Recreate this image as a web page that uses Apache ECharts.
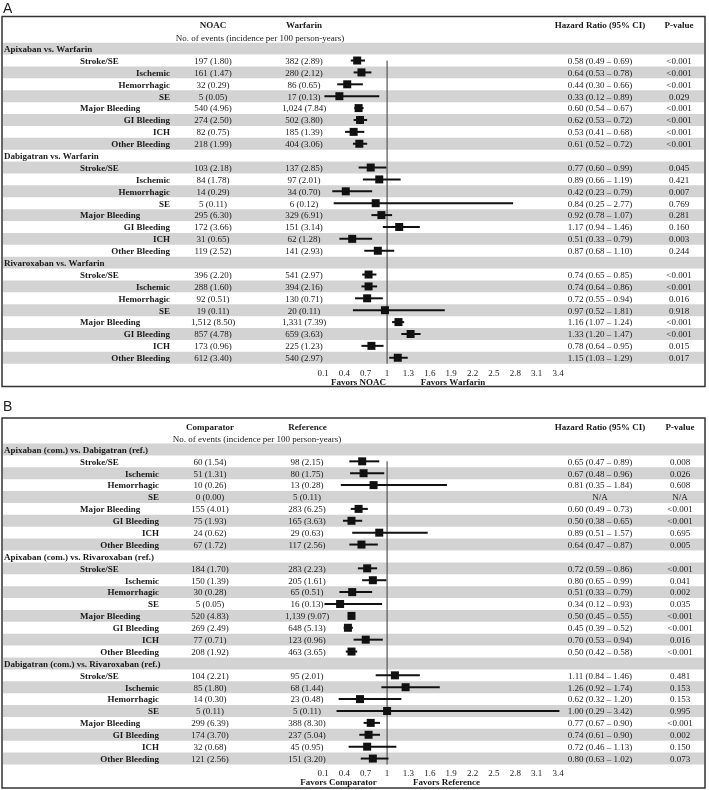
<!DOCTYPE html>
<html>
<head>
<meta charset="utf-8">
<script src="https://cdn.jsdelivr.net/npm/echarts@6/dist/echarts.min.js"></script>
<style>
  html, body { margin: 0; padding: 0; background: #fff; }
  #dom { width: 709px; height: 790px; }
</style>
</head>
<body>
<div id="dom"></div>
<script>
// outcomes, same order in every comparison block
var outcomes = ['Stroke/SE', 'Ischemic', 'Hemorrhagic', 'SE', 'Major Bleeding', 'GI Bleeding', 'ICH', 'Other Bleeding'];

// panel A
var groupsA = ['Apixaban vs. Warfarin', 'Dabigatran vs. Warfarin', 'Rivaroxaban vs. Warfarin'];
var noacEvents = [197, 161, 32, 5, 540, 274, 82, 218, 103, 84, 14, 5, 295, 172, 31, 119, 396, 288, 92, 19, 1512, 857, 173, 612];
var noacRate = [1.80, 1.47, 0.29, 0.05, 4.96, 2.50, 0.75, 1.99, 2.18, 1.78, 0.29, 0.11, 6.30, 3.66, 0.65, 2.52, 2.20, 1.60, 0.51, 0.11, 8.50, 4.78, 0.96, 3.40];
var warfEvents = [382, 280, 86, 17, 1024, 502, 185, 404, 137, 97, 34, 6, 329, 151, 62, 141, 541, 394, 130, 20, 1331, 659, 225, 540];
var warfRate = [2.89, 2.12, 0.65, 0.13, 7.84, 3.80, 1.39, 3.06, 2.85, 2.01, 0.70, 0.12, 6.91, 3.14, 1.28, 2.93, 2.97, 2.16, 0.71, 0.11, 7.39, 3.63, 1.23, 2.97];
var hrA = [0.58, 0.64, 0.44, 0.33, 0.60, 0.62, 0.53, 0.61, 0.77, 0.89, 0.42, 0.84, 0.92, 1.17, 0.51, 0.87, 0.74, 0.74, 0.72, 0.97, 1.16, 1.33, 0.78, 1.15];
var loA = [0.49, 0.53, 0.30, 0.12, 0.54, 0.53, 0.41, 0.52, 0.60, 0.66, 0.23, 0.25, 0.78, 0.94, 0.33, 0.68, 0.65, 0.64, 0.55, 0.52, 1.07, 1.20, 0.64, 1.03];
var hiA = [0.69, 0.78, 0.66, 0.89, 0.67, 0.72, 0.68, 0.72, 0.99, 1.19, 0.79, 2.77, 1.07, 1.46, 0.79, 1.10, 0.85, 0.86, 0.94, 1.81, 1.24, 1.47, 0.95, 1.29];
var pA = ['<0.001', '<0.001', '<0.001', '0.029', '<0.001', '<0.001', '<0.001', '<0.001',
          '0.045', '0.421', '0.007', '0.769', '0.281', '0.160', '0.003', '0.244',
          '<0.001', '<0.001', '0.016', '0.918', '<0.001', '<0.001', '0.015', '0.017'];

// panel B
var groupsB = ['Apixaban (com.) vs. Dabigatran (ref.)', 'Apixaban (com.) vs. Rivaroxaban (ref.)', 'Dabigatran (com.) vs. Rivaroxaban (ref.)'];
var comEvents = [60, 51, 10, 0, 155, 75, 24, 67, 184, 150, 30, 5, 520, 269, 77, 208, 104, 85, 14, 5, 299, 174, 32, 121];
var comRate = [1.54, 1.31, 0.26, 0.00, 4.01, 1.93, 0.62, 1.72, 1.70, 1.39, 0.28, 0.05, 4.83, 2.49, 0.71, 1.92, 2.21, 1.80, 0.30, 0.11, 6.39, 3.70, 0.68, 2.56];
var refEvents = [98, 80, 13, 5, 283, 165, 29, 117, 283, 205, 65, 16, 1139, 648, 123, 463, 95, 68, 23, 5, 388, 237, 45, 151];
var refRate = [2.15, 1.75, 0.28, 0.11, 6.25, 3.63, 0.63, 2.56, 2.23, 1.61, 0.51, 0.13, 9.07, 5.13, 0.96, 3.65, 2.01, 1.44, 0.48, 0.11, 8.30, 5.04, 0.95, 3.20];
var hrB = [0.65, 0.67, 0.81, null, 0.60, 0.50, 0.89, 0.64, 0.72, 0.80, 0.51, 0.34, 0.50, 0.45, 0.70, 0.50, 1.11, 1.26, 0.62, 1.00, 0.77, 0.74, 0.72, 0.80];
var loB = [0.47, 0.48, 0.35, null, 0.49, 0.38, 0.51, 0.47, 0.59, 0.65, 0.33, 0.12, 0.45, 0.39, 0.53, 0.42, 0.84, 0.92, 0.32, 0.29, 0.67, 0.61, 0.46, 0.63];
var hiB = [0.89, 0.96, 1.84, null, 0.73, 0.65, 1.57, 0.87, 0.86, 0.99, 0.79, 0.93, 0.55, 0.52, 0.94, 0.58, 1.46, 1.74, 1.20, 3.42, 0.90, 0.90, 1.13, 1.02];
var pB = ['0.008', '0.026', '0.608', 'N/A', '<0.001', '<0.001', '0.695', '0.005',
          '<0.001', '0.041', '0.002', '0.035', '<0.001', '<0.001', '0.016', '<0.001',
          '0.481', '0.153', '0.153', '0.995', '<0.001', '0.002', '0.150', '0.073'];

// axis: 0.1 .. 3.4 step 0.3 (axis is shifted by 0.1 so ticks start at 0)
var SHIFT = 0.1;
var SERIF = '"Liberation Serif", "Times New Roman", serif';
var INK = '#1a1a1a';
var STRIPE = '#d3d3d3';
var NROWS = 27;

function commas(n) { return String(n).replace(/\B(?=(\d{3})+(?!\d))/g, ','); }
function fmtCount(n, r) { return commas(n) + ' (' + r.toFixed(2) + ')'; }
function fmtHr(h, l, u) {
  if (h == null) return 'N/A';
  return h.toFixed(2) + ' (' + l.toFixed(2) + ' \u2013 ' + u.toFixed(2) + ')';
}
function txt(s, x, y, align, bold) {
  return {
    type: 'text',
    style: {
      text: s, x: x, y: y,
      font: (bold ? 'bold ' : '') + '9px ' + SERIF,
      fill: INK,
      align: align, verticalAlign: 'middle',
      textAlign: align, textVerticalAlign: 'middle'
    }
  };
}

var panels = [
  { groups: groupsA, ev1: noacEvents, rt1: noacRate, ev2: warfEvents, rt2: warfRate,
    hr: hrA, lo: loA, hi: hiA, p: pA, outRight: 170, col1: 213, col2: 304, colHr: 600, colP: 679 },
  { groups: groupsB, ev1: comEvents, rt1: comRate, ev2: refEvents, rt2: refRate,
    hr: hrB, lo: loB, hi: hiB, p: pB, outRight: 159, col1: 210, col2: 307, colHr: 600, colP: 680 }
];

function stripeData() {
  var out = [];
  for (var r = 0; r < NROWS; r += 2) out.push([0, r]);
  return out;
}
function rowData() {
  var out = [];
  for (var r = 0; r < NROWS; r++) out.push([0, r]);
  return out;
}

function stripeItem(params, api) {
  var r = api.value(1);
  var a = api.coord([0, r - 0.5])[1];
  var b = api.coord([0, r + 0.5])[1];
  return { type: 'rect', shape: { x: 3, y: Math.min(a, b), width: 701, height: Math.abs(b - a) }, style: { fill: STRIPE } };
}

function tableItem(p) {
  return function (params, api) {
    var r = api.value(1);
    var y = api.coord([0, r])[1] + 1;
    var g = Math.floor(r / 9), k = r % 9 - 1;
    var kids = [];
    if (k < 0) {
      kids.push(txt(p.groups[g], 4, y, 'left', true));
    } else {
      var d = g * 8 + k;
      var lead = (k === 0 || k === 4);
      kids.push(txt(outcomes[k], lead ? 80 : p.outRight, y, lead ? 'left' : 'right', true));
      kids.push(txt(fmtCount(p.ev1[d], p.rt1[d]), p.col1, y, 'center'));
      kids.push(txt(fmtCount(p.ev2[d], p.rt2[d]), p.col2, y, 'center'));
      kids.push(txt(fmtHr(p.hr[d], p.lo[d], p.hi[d]), p.colHr, y, 'center'));
      kids.push(txt(p.p[d], p.colP, y, 'center'));
    }
    return { type: 'group', children: kids };
  };
}

function ciData(p) {
  var out = [];
  for (var d = 0; d < p.hr.length; d++) {
    if (p.hr[d] == null) continue;
    var row = Math.floor(d / 8) * 9 + 1 + (d % 8);
    out.push([p.hr[d] - SHIFT, row, p.lo[d] - SHIFT, p.hi[d] - SHIFT]);
  }
  return out;
}

function ciItem(params, api) {
  var row = api.value(1);
  var c = api.coord([api.value(0), row]);
  var a = api.coord([api.value(2), row]);
  var b = api.coord([api.value(3), row]);
  return {
    type: 'group',
    children: [
      { type: 'line', shape: { x1: a[0], y1: c[1], x2: b[0], y2: c[1] }, style: { stroke: '#111', lineWidth: 2 } },
      { type: 'rect', shape: { x: c[0] - 4, y: c[1] - 4, width: 8, height: 8 }, style: { fill: '#111' } }
    ]
  };
}

function refItem(params, api) {
  var a = api.coord([api.value(0), api.value(1)]);
  var b = api.coord([api.value(0), NROWS - 0.5]);
  return { type: 'line', shape: { x1: a[0], y1: a[1], x2: b[0], y2: b[1] }, style: { stroke: '#555', lineWidth: 1.2 } };
}

var myChart = echarts.init(document.getElementById('dom'));

var grids = [
  { left: 323, width: 235, top: 42.7, height: 321 },
  { left: 323, width: 235, top: 443.5, height: 321 }
];

var xAxes = [], yAxes = [], series = [];
for (var i = 0; i < 2; i++) {
  xAxes.push({
    gridIndex: i, type: 'value', min: 0, max: 3.3, interval: 0.3,
    axisLine: { show: false },
    axisTick: { show: true, length: 3, lineStyle: { color: '#444' } },
    splitLine: { show: false },
    axisLabel: {
      margin: 5, fontFamily: SERIF, fontSize: 9, color: INK,
      formatter: function (v) { return String(Math.round((v + SHIFT) * 10) / 10); }
    }
  });
  yAxes.push({ gridIndex: i, type: 'value', min: -0.5, max: NROWS - 0.5, inverse: true, show: false });

  series.push({ type: 'custom', xAxisIndex: i, yAxisIndex: i, clip: false, z: 1, silent: true,
    data: stripeData(), renderItem: stripeItem });
  series.push({ type: 'custom', xAxisIndex: i, yAxisIndex: i, clip: false, z: 3, silent: true,
    data: rowData(), renderItem: tableItem(panels[i]) });
  series.push({ type: 'custom', xAxisIndex: i, yAxisIndex: i, clip: false, z: 3, silent: true,
    data: [[1 - SHIFT, 1]], renderItem: refItem });
  series.push({ type: 'custom', xAxisIndex: i, yAxisIndex: i, clip: false, z: 4, silent: true,
    data: ciData(panels[i]), renderItem: ciItem });
}

function head(s, x, y, bold) { var t = txt(s, x, y, 'center', bold); t.z = 10; return t; }

var graphic = [
  { type: 'text', left: 3, top: 2, style: { text: 'A', font: '14px "Liberation Sans", Arial, sans-serif', fill: '#222' } },
  { type: 'text', left: 3, top: 400, style: { text: 'B', font: '14px "Liberation Sans", Arial, sans-serif', fill: '#222' } },
  { type: 'rect', shape: { x: 2, y: 16.5, width: 703, height: 370 }, style: { fill: 'none', stroke: '#333', lineWidth: 1.5 }, z: 20 },
  { type: 'rect', shape: { x: 2, y: 418, width: 703, height: 370 }, style: { fill: 'none', stroke: '#333', lineWidth: 1.5 }, z: 20 },
  head('NOAC', 213, 26, true),
  head('Warfarin', 304, 26, true),
  head('No. of events (incidence per 100 person-years)', 260, 38.5, false),
  head('Hazard Ratio (95% CI)', 600, 26, true),
  head('P-value', 679, 26, true),
  head('Favors NOAC', 358.5, 382.5, true),
  head('Favors Warfarin', 453, 382.5, true),
  head('Comparator', 210, 427.5, true),
  head('Reference', 307.5, 427.5, true),
  head('No. of events (incidence per 100 person-years)', 257, 439.5, false),
  head('Hazard Ratio (95% CI)', 600, 427.5, true),
  head('P-value', 680, 427.5, true),
  head('Favors Comparator', 338.5, 782.5, true),
  head('Favors Reference', 446.5, 782.5, true)
];

var option = {
  backgroundColor: '#fff',
  animation: false,
  grid: grids,
  xAxis: xAxes,
  yAxis: yAxes,
  series: series,
  graphic: graphic
};
myChart.setOption(option);
</script>
</body>
</html>
